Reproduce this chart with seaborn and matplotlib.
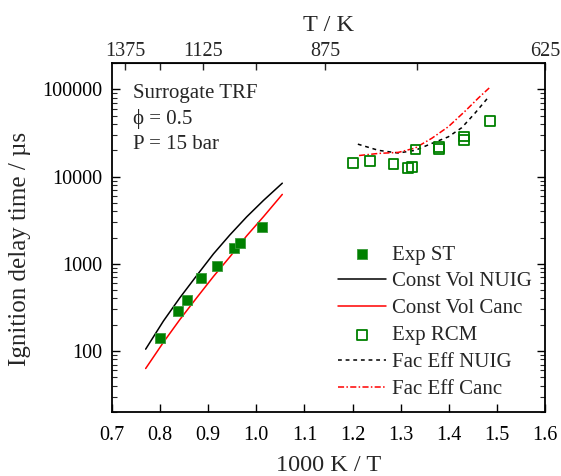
import numpy as np
import pandas as pd
import matplotlib
matplotlib.use("Agg")
import matplotlib.pyplot as plt
from matplotlib.ticker import FixedLocator, LogLocator, NullFormatter, FixedFormatter
import seaborn as sns

# Shock tube measurements (1000 K / T, ignition delay in µs)
st_x = [0.799, 0.838, 0.855, 0.885, 0.918, 0.954, 0.9655, 1.011]
st_tau = [141, 285, 383, 680, 942, 1505, 1745, 2655]

# Rapid compression machine measurements
rcm_x = [1.2017, 1.236, 1.285, 1.316, 1.323, 1.331, 1.380, 1.380, 1.432, 1.432, 1.485]
rcm_tau = [14150, 15070, 13800, 12650, 12880, 20400, 20800, 22000, 26500, 28700, 43000]

# Constant volume simulations
cv_x = [0.770, 0.807, 0.841, 0.876, 0.911, 0.945, 0.980, 1.015, 1.054]
cv_nuig = [105, 221, 407, 731, 1300, 2140, 3450, 5330, 8390]
cv_canc = [63, 126, 229, 407, 716, 1200, 2090, 3470, 6240]

# Facility-effect simulations
fe_nuig_x = [1.211, 1.254, 1.295, 1.330, 1.365, 1.399, 1.427, 1.455, 1.484]
fe_nuig = [23500, 19950, 18600, 19950, 23990, 28500, 36300, 53700, 83200]
fe_canc_x = [1.2135, 1.254, 1.295, 1.330, 1.365, 1.399, 1.434, 1.4615, 1.484]
fe_canc = [17400, 18400, 18900, 21200, 27500, 37200, 56200, 79400, 103500]

# Temperature ticks for the top axis
t_ticks = [1375, 1250, 1125, 1000, 875, 750, 625]
t_labels = ["1375", "", "1125", "", "875", "", "625"]
y_major = [100, 1000, 10000, 100000]

sns.set_style("ticks")
plt.rcParams["font.family"] = ["Liberation Serif", "DejaVu Serif"]

fig = plt.figure(figsize=(5.61, 4.76), dpi=100)
ax = fig.add_axes([0.1996, 0.1345, 0.7719, 0.7331])

green = "#008000"
lw = 1.1
sns.scatterplot(x=st_x, y=st_tau, marker="s", s=55, color=green,
                edgecolor="#3a9a3a", linewidth=0.6, ax=ax, label="Exp ST", zorder=3)
sns.lineplot(x=cv_x, y=cv_nuig, color="black", lw=lw, ax=ax,
             label="Const Vol NUIG", sort=False, estimator=None)
sns.lineplot(x=cv_x, y=cv_canc, color="red", lw=lw, ax=ax,
             label="Const Vol Canc", sort=False, estimator=None)
sns.scatterplot(x=rcm_x, y=rcm_tau, marker="s", s=50, facecolor="none",
                edgecolor=green, linewidth=1.3, ax=ax, label="Exp RCM", zorder=3)
sns.lineplot(x=fe_nuig_x, y=fe_nuig, color="black", lw=lw, ax=ax,
             label="Fac Eff NUIG", sort=False, estimator=None,
             linestyle=(0, (2.5, 2.5)))
sns.lineplot(x=fe_canc_x, y=fe_canc, color="red", lw=lw, ax=ax,
             label="Fac Eff Canc", sort=False, estimator=None,
             linestyle=(0, (4, 1.5, 1, 1.5)))

ax.set_yscale("log")
ax.set_xlim(0.7, 1.6)
ax.set_ylim(20, 200000)
ax.set_xticks(np.round(np.arange(0.7, 1.61, 0.1), 1))
ax.set_xticklabels([f"{v:.1f}" for v in np.arange(0.7, 1.61, 0.1)])
ax.yaxis.set_major_locator(FixedLocator(y_major))
ax.yaxis.set_major_formatter(FixedFormatter([str(v) for v in y_major]))
ax.yaxis.set_minor_locator(LogLocator(base=10, subs=np.arange(2, 10)))
ax.yaxis.set_minor_formatter(NullFormatter())

ax.tick_params(axis="both", which="major", direction="in", length=6, width=1.0,
               labelsize=14.5, top=False, right=True, colors="black")
ax.tick_params(axis="y", which="major", pad=7)
ax.tick_params(axis="y", which="minor", direction="in", length=3.5, width=0.8,
               right=True)
ax.tick_params(axis="x", which="major", pad=10)
for s in ax.spines.values():
    s.set_linewidth(1.3)
    s.set_color("black")

sec = ax.secondary_xaxis("top", functions=(lambda x: 1000.0 / x, lambda t: 1000.0 / t))
sec.set_xticks(t_ticks)
sec.set_xticklabels(t_labels)
sec.tick_params(direction="in", length=5, width=1.0, labelsize=14.5, pad=1.5)
sec.set_xlabel("T / K", fontsize=17.5, labelpad=8)

ax.set_xlabel("1000 K / T", fontsize=17.5, labelpad=7)
ax.set_ylabel("Ignition delay time / µs", fontsize=18)
ax.yaxis.set_label_coords(-0.187, 0.467)

ax.text(0.048, 0.94, "Surrogate TRF\nϕ = 0.5\nP = 15 bar", transform=ax.transAxes,
        fontsize=15, va="top", ha="left", linespacing=1.4)

handles, labels = ax.get_legend_handles_labels()
ax.legend(handles, labels, loc="center left", bbox_to_anchor=(0.522, 0.258),
          frameon=False, fontsize=15, handlelength=2.3, handletextpad=0.3,
          labelspacing=0.35, borderpad=0, borderaxespad=0)

fig.savefig("out.png", dpi=100)
